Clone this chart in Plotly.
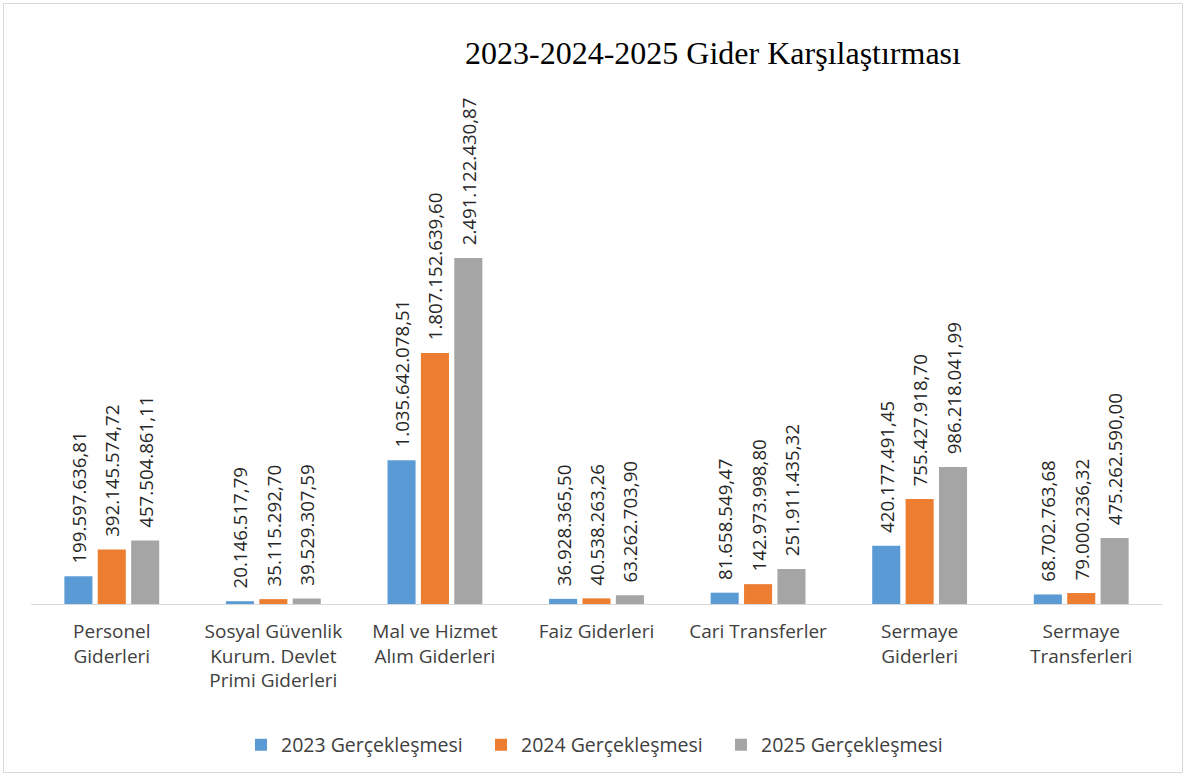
import plotly.graph_objects as go

categories = [
    "Personel<br>Giderleri",
    "Sosyal Güvenlik<br>Kurum. Devlet<br>Primi Giderleri",
    "Mal ve Hizmet<br>Alım Giderleri",
    "Faiz Giderleri",
    "Cari Transferler",
    "Sermaye<br>Giderleri",
    "Sermaye<br>Transferleri",
]

g2023 = [199597636.81, 20146517.79, 1035642078.51, 36928365.50,
         81658549.47, 420177491.45, 68702763.68]
g2024 = [392145574.72, 35115292.70, 1807152639.60, 40538263.26,
         142973998.80, 755427918.70, 79000236.32]
g2025 = [457504861.11, 39529307.59, 2491122430.87, 63262703.90,
         251911435.32, 986218041.99, 475262590.00]

series = [
    ("2023 Gerçekleşmesi", g2023, "#5B9BD5"),
    ("2024 Gerçekleşmesi", g2024, "#ED7D31"),
    ("2025 Gerçekleşmesi", g2025, "#A5A5A5"),
]

W, H = 1186, 776
ML, MR, MT, MB = 31, 24, 90, 172
PW, PH = W - ML - MR, H - MT - MB


def tr_fmt(v):
    # 1,234,567.89 -> 1.234.567,89
    s = f"{v:,.2f}"
    return s.replace(",", "X").replace(".", ",").replace("X", ".")


fig = go.Figure()
for name, vals, color in series:
    fig.add_trace(go.Bar(
        x=categories, y=vals, name=name,
        marker=dict(color=color, line_width=0),
        text=["\u00a0\u00a0" + tr_fmt(v) for v in vals],
        textposition="outside", textangle=-90,
        textfont=dict(family="Open Sans", size=18.7, color="#262626"),
        constraintext="none", cliponaxis=False,
        hoverinfo="skip",
    ))


def px_x(p):
    return (p - ML) / PW


def px_y(p):
    return (H - MB - p) / PH


# thin frame round the whole chart
fig.add_shape(type="rect", xref="paper", yref="paper",
              x0=px_x(3.5), x1=px_x(1182.5), y0=px_y(772.5), y1=px_y(3.5),
              line=dict(color="#d9d9d9", width=1), layer="below")

fig.update_layout(
    width=W, height=H,
    margin=dict(l=ML, r=MR, t=MT, b=MB),
    paper_bgcolor="white", plot_bgcolor="white",
    barmode="group", bargap=0.38, bargroupgap=0.16,
    title=dict(text="2023-2024-2025 Gider Karşılaştırması",
               x=713 / W, xanchor="center", y=1 - 53 / H, yanchor="middle",
               xref="container", yref="container",
               font=dict(family="Liberation Serif", size=32, color="#000000")),
    xaxis=dict(showline=True, linecolor="#d9d9d9", linewidth=1, ticks="",
               ticklabelstandoff=10, showgrid=False,
               tickfont=dict(family="Open Sans", size=19, color="#404040")),
    yaxis=dict(visible=False, range=[0, 2491122430.87 * PH / 346], showgrid=False),
    legend=dict(orientation="h", x=px_x(601), xanchor="center",
                y=px_y(745), yanchor="middle",
                font=dict(family="Open Sans", size=19.5, color="#404040"),
                itemwidth=30, entrywidth=195, entrywidthmode="pixels"),
    showlegend=True,
)

fig.write_html("out.html", config={"displayModeBar": False},
               post_script="document.body.style.margin='0';")
